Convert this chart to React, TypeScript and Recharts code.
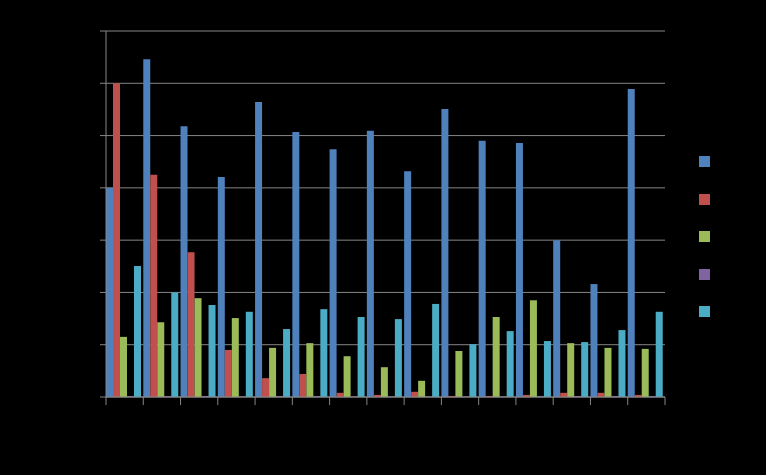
import React from 'react';
import { BarChart, Bar, XAxis, YAxis, CartesianGrid } from 'recharts';

const categories = ['1', '2', '3', '4', '5', '6', '7', '8', '9', '10', '11', '12', '13', '14', '15'];
const series1 = [40, 64.6, 51.8, 42.1, 56.4, 50.7, 47.4, 50.9, 43.2, 55.1, 49.0, 48.6, 30.0, 21.6, 58.9];
const series2 = [60, 42.5, 27.7, 9.0, 3.6, 4.4, 0.8, 0.4, 1.0, 0.2, 0.2, 0.4, 0.8, 0.8, 0.4];
const series3 = [11.5, 14.3, 18.9, 15.1, 9.4, 10.3, 7.8, 5.7, 3.1, 8.8, 15.3, 18.5, 10.3, 9.4, 9.2];
const series4 = [0.2, 0.2, 0.2, 0.1, 0.2, 0.2, 0.1, 0.1, 0.1, 0.1, 0.1, 0.2, 0.2, 0.2, 0.2];
const series5 = [25.05, 20, 17.6, 16.3, 13.0, 16.8, 15.3, 14.9, 17.8, 10.1, 12.6, 10.7, 10.5, 12.8, 16.3];
const yTicks = [0, 10, 20, 30, 40, 50, 60, 70];

const seriesNames = ['s1', 's2', 's3', 's4', 's5'];
const colors = ['#4F81BD', '#C0504D', '#9BBB59', '#8064A2', '#4BACC6'];

const data = categories.map((c, i) => ({
  cat: c,
  s1: series1[i],
  s2: series2[i],
  s3: series3[i],
  s4: series4[i],
  s5: series5[i],
}));

const GRID = '#868686';
const EmptyTick = () => <g />;

const BoundaryTick = (props: any) => {
  const { x, y, payload, index, visibleTicksCount } = props;
  const half = payload && typeof payload.offset === 'number' ? payload.offset : 0;
  const left = x - half;
  const right = x + half;
  const isLast = index === (visibleTicksCount ?? categories.length) - 1;
  return (
    <g>
      <line x1={left} x2={left} y1={y} y2={y + 8} stroke={GRID} />
      {isLast ? <line x1={right} x2={right} y1={y} y2={y + 8} stroke={GRID} /> : null}
    </g>
  );
};

export default function App() {
  return (
    <div style={{ position: 'absolute', left: 0, top: 0, width: 766, height: 475, background: '#000', overflow: 'hidden' }}>
      <BarChart
        width={766}
        height={475}
        data={data}
        margin={{ top: 31, right: 101, bottom: 77, left: 105 }}
        barCategoryGap={0}
        barGap={0}
      >
        <CartesianGrid horizontal vertical={false} stroke={GRID} strokeWidth={1} />
        <XAxis
          dataKey="cat"
          height={1}
          tickSize={0}
          tickMargin={0}
          tickLine={false}
          tick={BoundaryTick}
          interval={0}
          axisLine={{ stroke: GRID }}
        />
        <YAxis
          domain={[0, 70]}
          ticks={yTicks}
          tick={EmptyTick}
          tickSize={6}
          width={1}
          axisLine={{ stroke: GRID }}
          tickLine={{ stroke: GRID }}
        />
        {seriesNames.map((s, i) => (
          <Bar key={s} dataKey={s} fill={colors[i]} isAnimationActive={false} />
        ))}
      </BarChart>
      <div style={{ position: 'absolute', left: 699, top: 156, width: 20, height: 170 }}>
        {colors.map((col, i) => (
          <div
            key={i}
            style={{
              position: 'absolute',
              left: 0,
              top: i * 37.6,
              width: 11,
              height: 11,
              background: col,
            }}
          />
        ))}
      </div>
    </div>
  );
}
